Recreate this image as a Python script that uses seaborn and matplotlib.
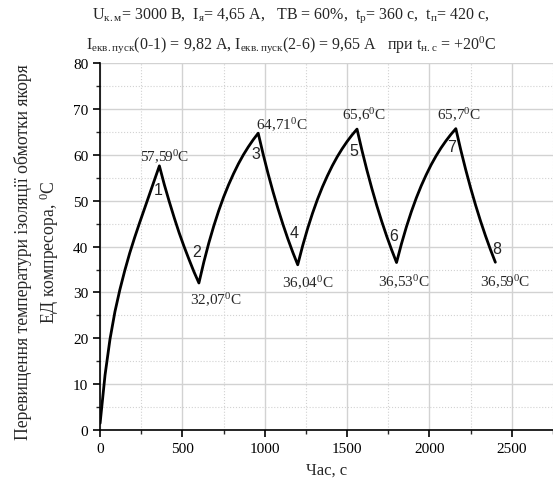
import numpy as np
import pandas as pd
import matplotlib
matplotlib.use("Agg")
import matplotlib.pyplot as plt
from matplotlib.ticker import MultipleLocator
import seaborn as sns

## Readings from the chart: time (s) and temperature rise (deg C)
time_s = [0, 30, 60, 90, 120, 150, 180, 210, 240, 270, 300, 330, 360,
          390, 420, 450, 480, 510, 540, 570, 600,
          630, 660, 690, 720, 750, 780, 810, 840, 870, 900, 930, 960,
          990, 1020, 1050, 1080, 1110, 1140, 1170, 1200,
          1230, 1260, 1290, 1320, 1350, 1380, 1410, 1440, 1470, 1500, 1530, 1560,
          1590, 1620, 1650, 1680, 1710, 1740, 1770, 1800,
          1830, 1860, 1890, 1920, 1950, 1980, 2010, 2040, 2070, 2100, 2130, 2160,
          2190, 2220, 2250, 2280, 2310, 2340, 2370, 2400]
temp_c = [1.5, 12.0, 19.8, 25.8, 30.6, 34.8, 38.6, 42.0, 45.2, 48.3, 51.4, 54.5, 57.59,
          53.5, 49.8, 46.3, 43.0, 40.0, 37.2, 34.5, 32.07,
          36.65, 40.77, 44.46, 47.8, 50.79, 53.46, 55.86, 58.05, 60.0, 61.73, 63.3, 64.71,
          60.14, 55.89, 51.95, 48.28, 44.87, 41.70, 38.76, 36.04,
          40.19, 43.93, 47.28, 50.30, 53.0, 55.41, 57.61, 59.58, 61.33, 62.91, 64.33, 65.6,
          60.97, 56.67, 52.67, 48.95, 45.50, 42.29, 39.31, 36.53,
          40.62, 44.31, 47.62, 50.60, 53.26, 55.64, 57.82, 59.75, 61.49, 63.04, 64.44, 65.7,
          61.06, 56.76, 52.75, 49.03, 45.57, 42.36, 39.37, 36.59]

## Extreme value labels and point numbers
value_labels = ["57,59", "32,07", "64,71", "36,04", "65,6", "36,53", "65,7", "36,59"]
value_pos = [(393, 59.7), (702, 28.6), (1102, 66.7), (1259, 32.3),
             (1604, 68.9), (1846, 32.5), (2179, 68.9), (2458, 32.5)]
point_nums = ["1", "2", "3", "4", "5", "6", "7", "8"]
num_pos = [(351, 52.5), (587, 39.0), (944, 60.2), (1180, 43.0),
           (1538, 61.0), (1780, 42.5), (2137, 61.9), (2409, 39.5)]

sns.set_style("white")
plt.rcParams['font.family'] = ['Liberation Serif', 'DejaVu Serif']
plt.rcParams['mathtext.fontset'] = 'custom'
plt.rcParams['mathtext.rm'] = 'Liberation Serif'
plt.rcParams['mathtext.it'] = 'Liberation Serif:italic'

df = pd.DataFrame({"t": time_s, "T": temp_c})

fig = plt.figure(figsize=(5.53, 4.85), dpi=100)
ax = fig.add_axes([0.181, 0.111, 0.819, 0.757])

sns.lineplot(data=df, x="t", y="T", color="black", lw=2, ax=ax)

ax.set_xlim(0, 2750)
ax.set_ylim(0, 80)
ax.xaxis.set_major_locator(MultipleLocator(500))
ax.xaxis.set_minor_locator(MultipleLocator(250))
ax.yaxis.set_major_locator(MultipleLocator(10))
ax.yaxis.set_minor_locator(MultipleLocator(5))
ax.grid(True, which="major", color="#d2d2d2", lw=1, ls="-")
ax.grid(True, which="minor", color="#d2d2d2", lw=0.8, ls=":")
ax.set_axisbelow(True)
for s in ["top", "right"]:
    ax.spines[s].set_visible(False)
for s in ["left", "bottom"]:
    ax.spines[s].set_color("black")
    ax.spines[s].set_linewidth(1.2)
ax.tick_params(which="major", direction="out", length=5, width=1.2, labelsize=11, colors="black",
               left=True, bottom=True)
ax.tick_params(which="minor", direction="out", length=3, width=1, left=True, bottom=True)

ax.set_xlabel("Час, с", fontsize=12, labelpad=5)
ax.set_ylabel("")

for lab, (x, y) in zip(value_labels, value_pos):
    ax.text(x, y, lab + r"$^{0}$C", fontsize=11, ha="center", va="center")
for lab, (x, y) in zip(point_nums, num_pos):
    ax.text(x, y, lab, fontsize=11.5, ha="center", va="center", family="Liberation Sans")

fig.text(0.068, 0.48, "Перевищення температури ізоляції обмотки якоря\nЕД компресора, $^{0}$C",
         rotation=90, fontsize=12.7, ha="center", va="center", multialignment="center",
         linespacing=1.35)

fig.text(0.526, 0.968,
         r"U$_{\mathrm{к.м}}$= 3000 В,  I$_{\mathrm{я}}$= 4,65 А,   ТВ = 60%,  t$_{\mathrm{р}}$= 360 с,  t$_{\mathrm{п}}$= 420 с,",
         fontsize=11.5, ha="center", va="center")
fig.text(0.526, 0.908,
         r"I$_{\mathrm{екв.пуск}}$(0-1) = 9,82 А, I$_{\mathrm{екв.пуск}}$(2-6) = 9,65 А   при t$_{\mathrm{н.с}}$ = +20$^{0}$C",
         fontsize=11.5, ha="center", va="center")

fig.savefig("out.png", dpi=100)
